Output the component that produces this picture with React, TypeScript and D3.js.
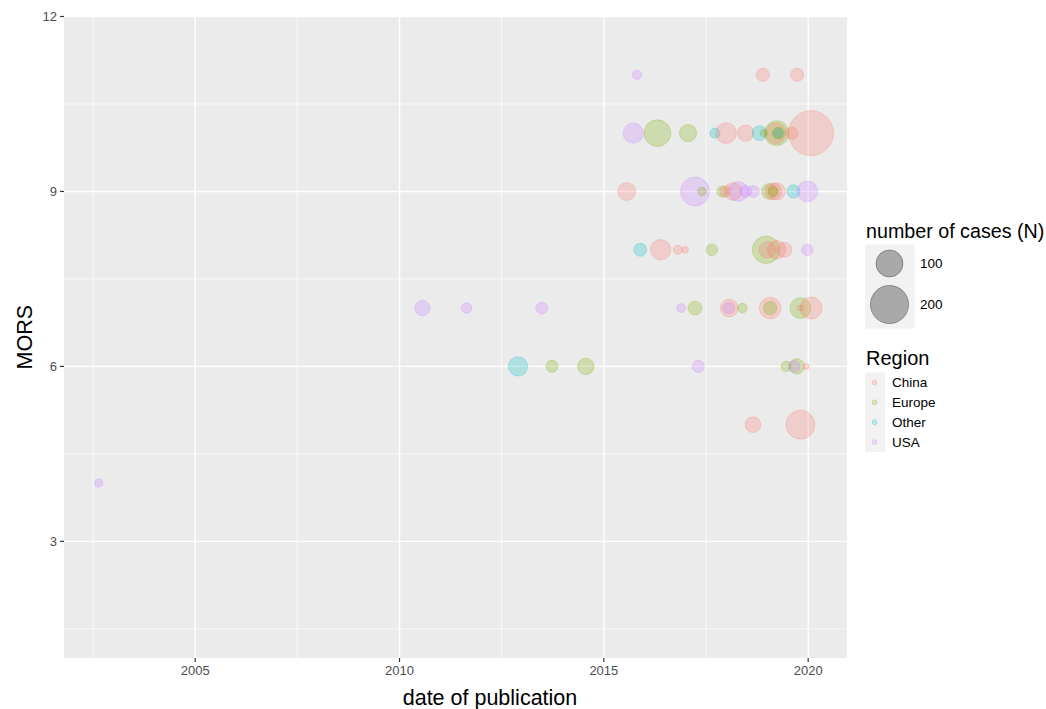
import * as d3 from 'd3';
import React from 'react';

// one entry per study: publication date (decimal year), MORS score, number of cases, region
const pubYear = [
  2002.64,
  2018.65, 2019.81,
  2012.9, 2013.73, 2014.56, 2017.31, 2019.46, 2019.72, 2019.66, 2019.95,
  2010.56, 2011.64, 2013.48, 2016.89, 2017.23, 2018.07, 2018.06, 2018.39, 2019.07, 2019.07, 2019.81, 2020.07, 2019.81,
  2015.89, 2016.39, 2016.81, 2016.99, 2017.64, 2018.97, 2019.0, 2019.23, 2019.42, 2019.98,
  2015.56, 2017.23, 2017.4, 2017.9, 2017.97, 2018.16, 2018.29, 2018.47, 2018.66, 2019.05, 2019.14, 2019.23, 2019.14, 2019.64, 2019.98,
  2015.72, 2016.31, 2017.06, 2017.72, 2017.99, 2018.47, 2018.81, 2018.91, 2019.23, 2019.21, 2019.27, 2019.27, 2019.6, 2020.07,
  2015.81, 2018.89, 2019.73,
];
const mors = [
  4,
  5, 5,
  6, 6, 6, 6, 6, 6, 6, 6,
  7, 7, 7, 7, 7, 7, 7, 7, 7, 7, 7, 7, 7,
  8, 8, 8, 8, 8, 8, 8, 8, 8, 8,
  9, 9, 9, 9, 9, 9, 9, 9, 9, 9, 9, 9, 9, 9, 9,
  10, 10, 10, 10, 10, 10, 10, 10, 10, 10, 10, 10, 10, 10,
  11, 11, 11,
];
const cases = [
  9,
  34, 115,
  51, 20, 37, 20, 14, 32, 19, 5,
  32, 15, 20, 11, 26, 43, 18, 13, 64, 24, 60, 66, 5,
  23, 57, 11, 6, 18, 103, 38, 46, 31, 18,
  44, 115, 10, 17, 17, 43, 53, 19, 19, 34, 38, 41, 14, 24, 59,
  57, 98, 40, 14, 59, 37, 30, 7, 84, 60, 20, 12, 20, 278,
  12, 24, 24,
];
const region = [
  'USA',
  'China', 'China',
  'Other', 'Europe', 'Europe', 'USA', 'Europe', 'Europe', 'USA', 'China',
  'USA', 'USA', 'USA', 'USA', 'Europe', 'China', 'USA', 'Europe', 'China', 'Europe', 'Europe', 'China', 'China',
  'Other', 'China', 'China', 'China', 'Europe', 'Europe', 'China', 'China', 'China', 'USA',
  'China', 'USA', 'Europe', 'Europe', 'China', 'China', 'USA', 'USA', 'USA', 'Europe', 'China', 'China', 'Europe', 'Other', 'USA',
  'USA', 'Europe', 'Europe', 'Other', 'China', 'China', 'Other', 'Europe', 'Europe', 'China', 'Europe', 'Other', 'China', 'China',
  'USA', 'China', 'China',
];

const regions = ['China', 'Europe', 'Other', 'USA'];
const regionColors = ['#F8766D', '#7CAE00', '#00BFC4', '#C77CFF'];
const yearTicks = [2005, 2010, 2015, 2020];
const yearMinor = [2002.5, 2007.5, 2012.5, 2017.5];
const morsTicks = [3, 6, 9, 12];
const morsMinor = [1.5, 4.5, 7.5, 10.5];
const sizeBreaks = [100, 200];

const W = 1046;
const H = 709;
const left = 64, right = 847, top = 16.5, bottom = 658;
const FONT = '"Liberation Sans", Arial, Helvetica, sans-serif';
const ALPHA = 0.26;

export default function App() {
  const x = d3.scaleLinear().domain([2001.79, 2020.95]).range([left, right]);
  const y = d3.scaleLinear().domain([1, 12]).range([bottom, top]);
  const r = d3.scaleSqrt().domain([0, 200]).range([0, 19.1]);
  const color = d3.scaleOrdinal<string, string>().domain(regions).range(regionColors);

  const points = pubYear.map((yr, i) => ({ yr, m: mors[i], n: cases[i], reg: region[i] }));

  return (
    <svg width={W} height={H} style={{ position: 'absolute', left: 0, top: 0 }} fontFamily={FONT}>
      <rect x={0} y={0} width={W} height={H} fill="#fff" />
      <rect x={left} y={top} width={right - left} height={bottom - top} fill="#EBEBEB" />
      {yearMinor.map(v => (
        <line key={'xm' + v} x1={x(v)} x2={x(v)} y1={top} y2={bottom} stroke="#fff" strokeWidth={0.7} />
      ))}
      {morsMinor.map(v => (
        <line key={'ym' + v} x1={left} x2={right} y1={y(v)} y2={y(v)} stroke="#fff" strokeWidth={0.7} />
      ))}
      {yearTicks.map(v => (
        <line key={'xg' + v} x1={x(v)} x2={x(v)} y1={top} y2={bottom} stroke="#fff" strokeWidth={1.4} />
      ))}
      {morsTicks.map(v => (
        <line key={'yg' + v} x1={left} x2={right} y1={y(v)} y2={y(v)} stroke="#fff" strokeWidth={1.4} />
      ))}

      {points.map((p, i) => (
        <circle
          key={i}
          cx={x(p.yr)}
          cy={y(p.m)}
          r={r(p.n)}
          fill={color(p.reg)}
          fillOpacity={ALPHA}
          stroke={color(p.reg)}
          strokeOpacity={ALPHA}
          strokeWidth={1}
        />
      ))}

      {/* axes */}
      {morsTicks.map(v => (
        <g key={'yt' + v}>
          <line x1={left - 4} x2={left} y1={y(v)} y2={y(v)} stroke="#333" strokeWidth={1.2} />
          <text x={left - 7} y={y(v)} dy="0.35em" textAnchor="end" fontSize={13} fill="#4D4D4D">{v}</text>
        </g>
      ))}
      {yearTicks.map(v => (
        <g key={'xt' + v}>
          <line x1={x(v)} x2={x(v)} y1={bottom} y2={bottom + 4} stroke="#333" strokeWidth={1.2} />
          <text x={x(v)} y={bottom + 17} textAnchor="middle" fontSize={13} fill="#4D4D4D">{v}</text>
        </g>
      ))}
      <text x={490} y={705} textAnchor="middle" fontSize={21.5} fill="#000">date of publication</text>
      <text transform={`translate(32,${(top + bottom) / 2}) rotate(-90)`} textAnchor="middle" fontSize={21.5} fill="#000">MORS</text>

      {/* size legend */}
      <text x={866} y={238} fontSize={19.7} fill="#000">number of cases (N)</text>
      <rect x={865} y={244.5} width={49.5} height={84} fill="#F2F2F2" />
      {sizeBreaks.map((b, i) => {
        const cy = i === 0 ? 263.5 : 304.5;
        return (
          <g key={'sb' + b}>
            <circle cx={889.5} cy={cy} r={r(b)} fill="#000" fillOpacity={0.3} stroke="#000" strokeOpacity={0.3} strokeWidth={1} />
            <text x={920} y={cy} dy="0.35em" fontSize={13.5} fill="#000">{b}</text>
          </g>
        );
      })}

      {/* region legend */}
      <text x={866} y={365} fontSize={20} fill="#000">Region</text>
      <rect x={865} y={372.5} width={20} height={79.5} fill="#F2F2F2" />
      {regions.map((g, i) => {
        const cy = 382.4 + i * 19.9;
        return (
          <g key={'rg' + g}>
            <circle cx={874.5} cy={cy} r={2.5} fill={color(g)} fillOpacity={0.22} stroke={color(g)} strokeOpacity={0.22} strokeWidth={1} />
            <text x={892} y={cy} dy="0.35em" fontSize={13.5} fill="#000">{g}</text>
          </g>
        );
      })}
    </svg>
  );
}
